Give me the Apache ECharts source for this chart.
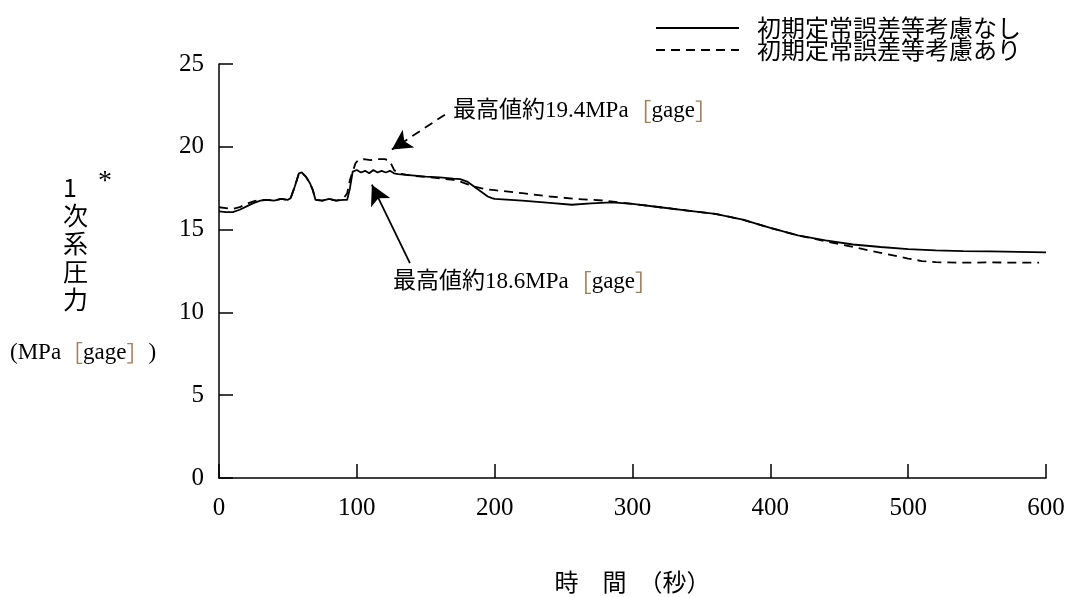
<!DOCTYPE html>
<html>
<head>
<meta charset="utf-8">
<script src="https://cdn.jsdelivr.net/npm/echarts@6/dist/echarts.min.js"></script>
<style>
  html, body { margin: 0; padding: 0; background: #fff; }
  #chart { width: 1069px; height: 597px; }
</style>
</head>
<body>
<div id="chart"></div>
<script>
// 初期定常誤差等考慮なし (solid)
const timeA = [0, 5, 10, 15, 20, 25, 30, 35, 40, 45, 50, 52, 55, 58, 60, 63, 66, 68, 70, 75, 80, 85, 90, 93,
  95, 97, 100, 103, 106, 109, 112, 115, 118, 121, 124, 127, 130, 140, 150, 160, 170, 175, 180, 185, 190,
  195, 198, 200, 220, 240, 256, 270, 285, 300, 320, 340, 360, 380, 400, 420, 440, 460, 480, 500, 520,
  540, 560, 580, 600];
const pressA = [16.1, 16.05, 16.05, 16.2, 16.4, 16.6, 16.75, 16.8, 16.75, 16.85, 16.8, 16.9, 17.6, 18.4,
  18.45, 18.2, 17.8, 17.4, 16.8, 16.75, 16.85, 16.75, 16.8, 16.8, 17.5, 18.5, 18.6, 18.45, 18.55, 18.4,
  18.6, 18.45, 18.55, 18.45, 18.55, 18.4, 18.35, 18.28, 18.2, 18.15, 18.08, 18.05, 17.9, 17.6, 17.3,
  17.0, 16.9, 16.85, 16.75, 16.62, 16.5, 16.58, 16.65, 16.55, 16.35, 16.15, 15.95, 15.6, 15.1, 14.65,
  14.35, 14.1, 13.95, 13.82, 13.75, 13.7, 13.68, 13.65, 13.62];

// 初期定常誤差等考慮あり (dashed)
const timeB = [0, 5, 10, 15, 20, 25, 30, 35, 40, 45, 50, 52, 55, 58, 60, 63, 66, 68, 70, 75, 80, 85, 90, 93,
  95, 97, 99, 101, 105, 110, 115, 120, 123, 125, 127, 130, 140, 150, 160, 170, 175, 180, 185, 190, 195,
  200, 220, 240, 260, 280, 300, 320, 340, 360, 380, 400, 420, 440, 460, 480, 500, 510, 520, 540, 560,
  580, 595];
const pressB = [16.35, 16.3, 16.25, 16.35, 16.55, 16.7, 16.8, 16.8, 16.75, 16.85, 16.8, 16.9, 17.6, 18.4,
  18.45, 18.2, 17.8, 17.4, 16.8, 16.75, 16.85, 16.75, 16.85, 17.2, 18.0, 18.5, 19.0, 19.2, 19.25, 19.2,
  19.25, 19.25, 19.2, 18.95, 18.6, 18.4, 18.25, 18.18, 18.1, 18.0, 17.9, 17.75, 17.6, 17.5, 17.42, 17.38,
  17.2, 17.0, 16.85, 16.75, 16.55, 16.35, 16.15, 15.95, 15.6, 15.1, 14.65, 14.3, 13.95, 13.6, 13.25,
  13.1, 13.03, 13.0, 13.02, 13.0, 13.0];

const seriesNames = ["初期定常誤差等考慮なし", "初期定常誤差等考慮あり"];
const xTicks = [0, 600, 100];
const yTicks = [0, 25, 5];

const SERIF = "'Liberation Serif', 'Noto Sans CJK JP', serif";
const CJK = "'Noto Sans CJK JP', 'Liberation Serif', serif";

const pairs = (xs, ys) => xs.map((x, i) => [x, ys[i]]);

const noteRich = {
  b: { color: "#a0805a", fontSize: 23, fontFamily: CJK },
  t: { color: "#000", fontSize: 23, fontFamily: SERIF },
};

const myChart = echarts.init(document.getElementById("chart"));
myChart.setOption({
  animation: false,
  backgroundColor: "#fff",
  grid: { left: 219, right: 23, top: 64, bottom: 119, outerBoundsMode: "none" },
  legend: {
    orient: "vertical",
    left: 650,
    top: 11,
    itemWidth: 83,
    itemHeight: 14,
    itemGap: -2,
    data: seriesNames,
    itemStyle: { opacity: 0 },
    textStyle: {
      color: "#000",
      fontSize: 24,
      lineHeight: 20,
      fontFamily: CJK,
      padding: [0, 0, 0, 13],
    },
  },
  xAxis: {
    type: "value",
    min: xTicks[0],
    max: xTicks[1],
    interval: xTicks[2],
    name: "時　間　（秒）",
    nameLocation: "middle",
    nameGap: 92,
    nameTextStyle: { color: "#000", fontSize: 24, fontFamily: CJK },
    axisLine: { lineStyle: { color: "#000", width: 1.5 } },
    axisTick: { inside: true, length: 14, lineStyle: { color: "#000", width: 1.5 } },
    axisLabel: { color: "#000", fontSize: 25, margin: 18, fontFamily: SERIF },
    splitLine: { show: false },
  },
  yAxis: {
    type: "value",
    min: yTicks[0],
    max: yTicks[1],
    interval: yTicks[2],
    axisLine: { show: true, lineStyle: { color: "#000", width: 1.5 } },
    axisTick: { show: true, inside: true, length: 14, lineStyle: { color: "#000", width: 1.5 } },
    axisLabel: { color: "#000", fontSize: 25, margin: 15, fontFamily: SERIF },
    splitLine: { show: false },
  },
  series: [
    {
      name: seriesNames[0],
      type: "line",
      symbol: "none",
      data: pairs(timeA, pressA),
      lineStyle: { color: "#000", width: 1.8 },
      itemStyle: { color: "#000" },
      z: 3,
      markLine: {
        silent: true,
        symbol: ["none", "arrow"],
        symbolSize: [16, 20],
        label: { show: false },
        lineStyle: { color: "#000", width: 1.8, type: "solid" },
        data: [[{ coord: [138.5, 12.98] }, { coord: [110.9, 17.71] }]],
      },
      markPoint: {
        silent: true,
        symbolSize: 0,
        label: {
          show: true,
          position: [0, 0],
          align: "left",
          verticalAlign: "middle",
          formatter: "{t|最高値約18.6MPa}{b|［}{t|gage}{b|］}",
          rich: noteRich,
        },
        data: [{ coord: [126.2, 11.81] }],
      },
    },
    {
      name: seriesNames[1],
      type: "line",
      symbol: "none",
      data: pairs(timeB, pressB),
      lineStyle: { color: "#000", width: 1.8, type: [9, 6] },
      itemStyle: { color: "#000" },
      z: 2,
      markLine: {
        silent: true,
        symbol: ["none", "arrow"],
        symbolSize: [16, 20],
        label: { show: false },
        lineStyle: { color: "#000", width: 1.8, type: [9, 6] },
        data: [[{ coord: [163.9, 21.94] }, { coord: [125.4, 19.83] }]],
      },
      markPoint: {
        silent: true,
        symbolSize: 0,
        label: {
          show: true,
          position: [0, 0],
          align: "left",
          verticalAlign: "middle",
          formatter: "{t|最高値約19.4MPa}{b|［}{t|gage}{b|］}",
          rich: noteRich,
        },
        data: [{ coord: [169.7, 22.14] }],
      },
    },
  ],
  graphic: [
    {
      type: "text",
      left: 63,
      top: 173,
      style: {
        text: "1\n次\n系\n圧\n力",
        fill: "#000",
        fontSize: 25,
        lineHeight: 28,
        align: "center",
        fontFamily: CJK,
      },
    },
    {
      type: "text",
      left: 98,
      top: 168,
      style: { text: "*", fill: "#000", fontSize: 28, fontFamily: SERIF },
    },
    {
      type: "text",
      left: 10,
      top: 341,
      style: {
        text: "{t|(MPa}{b|［}{t|gage}{b|］}{t|)}",
        rich: {
          t: { fill: "#000", fontSize: 23, fontFamily: SERIF },
          b: { fill: "#a0805a", fontSize: 22, fontFamily: CJK },
        },
      },
    },
  ],
});
</script>
</body>
</html>
